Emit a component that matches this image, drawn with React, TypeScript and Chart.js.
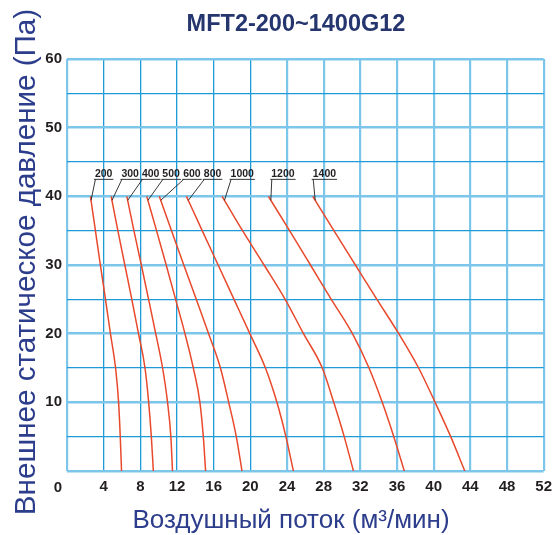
import React, { useEffect, useRef } from 'react';
import { Chart, registerables } from 'chart.js';

Chart.register(...registerables);

const TITLE = 'MFT2-200~1400G12';
const X_TITLE = 'Воздушный поток (м³/мин)';
const Y_TITLE = 'Внешнее статическое давление (Па)';

// Fan models (curve labels)
const models = ['200', '300', '400', '500', '600', '800', '1000', '1200', '1400'];

// Static pressure levels, Pa (shared by every curve)
const pressure = [40, 35, 30, 25, 20, 15, 10, 5, 0];

// Air flow at each pressure level, m³/min
const flow200 = [2.56, 3.1, 3.64, 4.2, 4.74, 5.3, 5.63, 5.81, 5.95];
const flow300 = [4.82, 5.55, 6.31, 7.07, 7.8, 8.51, 8.91, 9.2, 9.42];
const flow400 = [6.53, 7.3, 8.11, 8.9, 9.68, 10.43, 10.97, 11.33, 11.51];
const flow500 = [8.7, 9.77, 10.82, 11.85, 12.87, 13.78, 14.5, 14.87, 15.12];
const flow600 = [10.07, 11.4, 12.74, 14.1, 15.45, 16.74, 17.64, 18.47, 19.09];
const flow800 = [13.03, 14.75, 16.49, 18.22, 19.95, 21.65, 22.9, 23.88, 24.7];
const flow1000 = [16.92, 19.15, 21.5, 23.8, 25.8, 27.85, 29.1, 30.24, 31.25];
const flow1200 = [21.97, 24.28, 26.56, 28.83, 31.14, 32.95, 34.39, 35.65, 36.8];
const flow1400 = [26.81, 29.12, 31.46, 33.81, 36.19, 38.36, 40.16, 41.86, 43.4];

const flows = [flow200, flow300, flow400, flow500, flow600, flow800, flow1000, flow1200, flow1400];

// Axis ranges / tick steps
const X_MIN = 0;
const X_MAX = 52;
const X_STEP = 4;
const Y_MIN = 0;
const Y_MAX = 60;
const Y_STEP = 5;
const Y_LABEL_STEP = 10;

// Where the model tags sit (flow value of tag centre, pressure of tag row)
const TAG_FLOW = [4.0, 6.89, 9.13, 11.36, 13.63, 15.88, 19.12, 23.56, 28.08];
const TAG_PRESSURE = 43.2;

const FONT = '"Liberation Sans", Arial, Helvetica, sans-serif';
const NAVY = '#2c3d8c';
const TITLE_NAVY = '#25366f';
const INK = '#231f20';
const CURVE = '#e8492c';
const GRID_LIGHT = '#7cc6ec';
const GRID_DARK = '#1c9bd8';

const textPlugin = {
  id: 'fanText',
  afterDatasetsDraw(chart: any) {
    const { ctx, scales } = chart;
    const xs = scales.x;
    const ys = scales.y;
    ctx.save();

    // model tags with underline and leader to the curve start
    ctx.font = `bold 10.5px ${FONT}`;
    ctx.textAlign = 'center';
    ctx.textBaseline = 'middle';
    ctx.fillStyle = INK;
    ctx.strokeStyle = INK;
    ctx.lineWidth = 0.9;
    models.forEach((m, i) => {
      const f = flows[i];
      const cx = xs.getPixelForValue(TAG_FLOW[i]);
      const ty = ys.getPixelForValue(TAG_PRESSURE);
      ctx.fillText(m, cx, ty);
      const w = ctx.measureText(m).width;
      const uy = ty + 5;
      ctx.beginPath();
      ctx.moveTo(cx - w / 2 - 1, uy);
      ctx.lineTo(cx + w / 2 + 1, uy);
      ctx.stroke();
      const x0 = xs.getPixelForValue(f[0]);
      const y0 = ys.getPixelForValue(pressure[0]);
      const x1 = xs.getPixelForValue(f[1]);
      const y1 = ys.getPixelForValue(pressure[1]);
      const k = 4 / (y1 - y0);
      ctx.beginPath();
      ctx.moveTo(cx - w / 2 + 0.5, uy);
      ctx.lineTo(x0 + (x1 - x0) * k, y0 + (y1 - y0) * k);
      ctx.stroke();
    });

    // lone "0" of the flow axis, set left of the corner
    ctx.font = `bold 15px ${FONT}`;
    ctx.textBaseline = 'alphabetic';
    ctx.fillText('0', xs.left - 9, 492);

    // chart title
    ctx.font = `bold 23.5px ${FONT}`;
    ctx.fillStyle = TITLE_NAVY;
    ctx.textBaseline = 'middle';
    ctx.fillText(TITLE, 296, 25);

    // axis titles
    ctx.font = `26px ${FONT}`;
    ctx.fillStyle = NAVY;
    ctx.fillText(X_TITLE, 291, 521);

    ctx.translate(27, 262);
    ctx.rotate(-Math.PI / 2);
    ctx.font = `29.6px ${FONT}`;
    ctx.fillText(Y_TITLE, 0, 0);
    ctx.restore();
  },
};

export default function App() {
  const ref = useRef<HTMLCanvasElement | null>(null);

  useEffect(() => {
    if (!ref.current) return;
    const chart = new Chart(ref.current, {
      type: 'scatter',
      data: {
        datasets: models.map((m, i) => ({
          label: m,
          data: pressure.map((p, j) => ({ x: flows[i][j], y: p })),
          showLine: true,
          borderColor: CURVE,
          borderWidth: 1.5,
          pointRadius: 0,
          cubicInterpolationMode: 'monotone' as const,
          fill: false,
        })),
      },
      options: {
        responsive: false,
        animation: false,
        layout: { padding: { left: 0, right: 11, top: 59, bottom: 0 } },
        plugins: {
          legend: { display: false },
          title: { display: false },
          tooltip: { enabled: false },
        },
        scales: {
          x: {
            type: 'linear',
            min: X_MIN,
            max: X_MAX,
            afterFit: (s: any) => {
              s.height = 64;
            },
            ticks: {
              stepSize: X_STEP,
              padding: 7,
              color: INK,
              font: { family: FONT, size: 15, weight: 'bold' },
              callback: (v: any) => (v === 0 ? '' : String(v)),
            },
            grid: {
              drawTicks: false,
              color: (c: any) => {
                const v = c.tick ? c.tick.value : 0;
                return v === 0 || v > 20 ? GRID_LIGHT : GRID_DARK;
              },
              lineWidth: (c: any) => {
                const v = c.tick ? c.tick.value : 0;
                return v === 0 || v > 20 ? 2.2 : 1.3;
              },
            },
            border: { display: false },
          },
          y: {
            type: 'linear',
            min: Y_MIN,
            max: Y_MAX,
            afterFit: (s: any) => {
              s.width = 67;
            },
            ticks: {
              stepSize: Y_STEP,
              padding: 5,
              color: INK,
              font: { family: FONT, size: 15, weight: 'bold' },
              callback: (v: any) => (v % Y_LABEL_STEP === 0 && v !== 0 ? String(v) : ''),
            },
            grid: {
              drawTicks: false,
              color: (c: any) => {
                const v = c.tick ? c.tick.value : 0;
                return v % Y_LABEL_STEP === 0 ? GRID_LIGHT : GRID_DARK;
              },
              lineWidth: (c: any) => {
                const v = c.tick ? c.tick.value : 0;
                return v % Y_LABEL_STEP === 0 ? 2.6 : 1.3;
              },
            },
            border: { display: false },
          },
        },
      },
      plugins: [textPlugin],
    } as any);
    return () => chart.destroy();
  }, []);

  return (
    <div style={{ position: 'absolute', left: 0, top: 0, width: 559, height: 535, background: '#fff' }}>
      <canvas ref={ref} width={559} height={535} style={{ display: 'block', width: 559, height: 535 }} />
    </div>
  );
}
